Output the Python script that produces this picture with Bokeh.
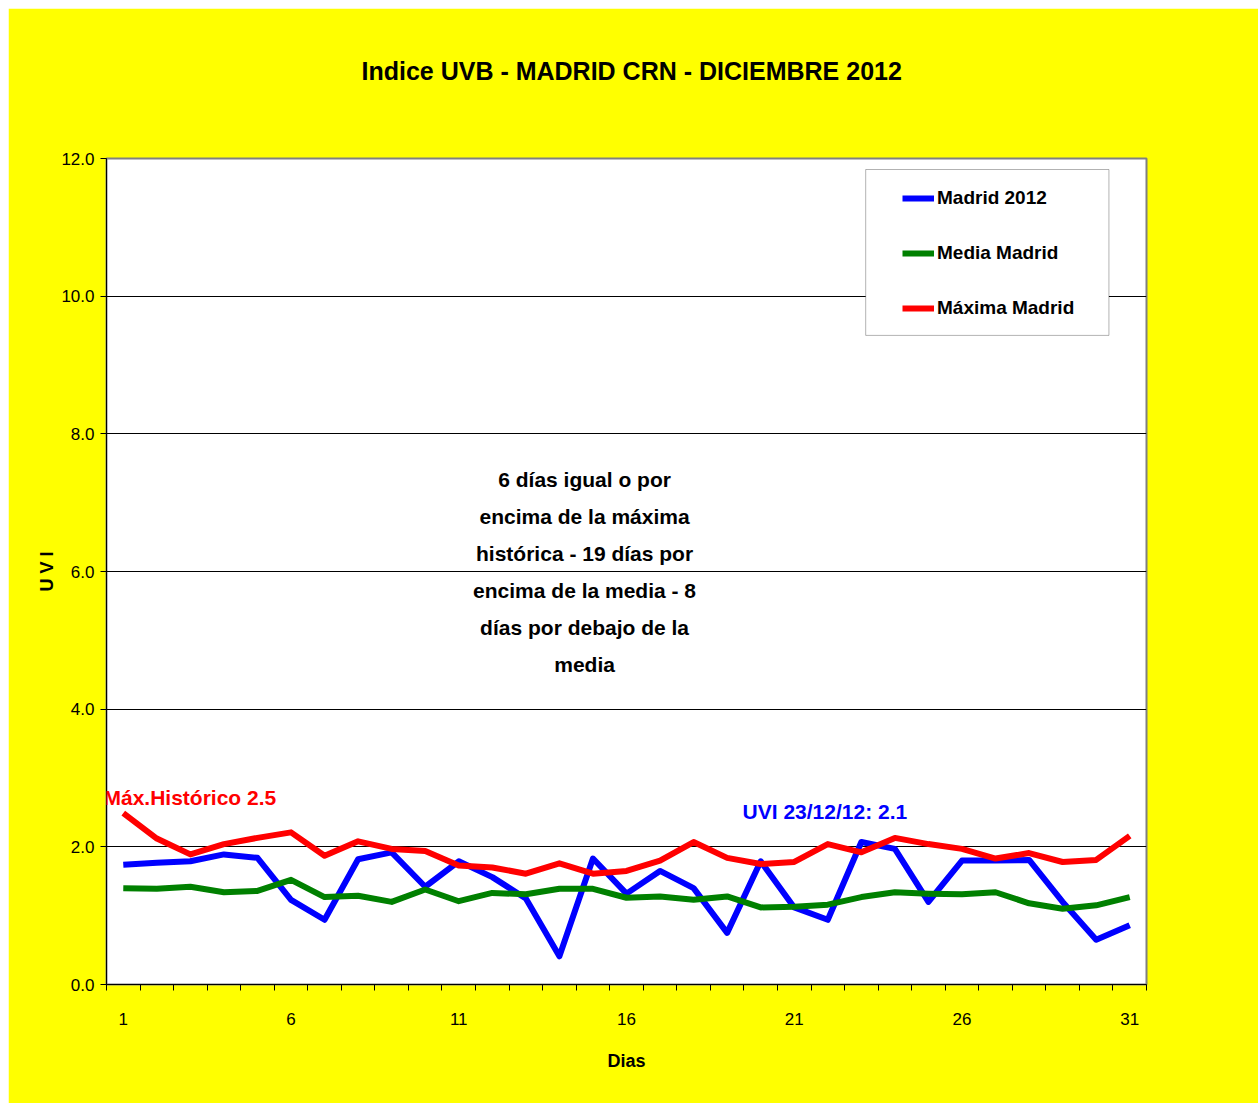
from bokeh.plotting import figure
from bokeh.models import (FixedTicker, NumeralTickFormatter, Label, Legend,
                          LegendItem, BoxAnnotation, Range1d, Title)
from bokeh.embed import file_html
from bokeh.resources import INLINE

# ---------------- data ----------------
dias = list(range(1, 32))
madrid_2012 = [1.74, 1.77, 1.79, 1.89, 1.84, 1.23, 0.94, 1.82, 1.92, 1.42,
               1.79, 1.56, 1.25, 0.41, 1.83, 1.32, 1.65, 1.40, 0.75, 1.79,
               1.12, 0.94, 2.07, 1.97, 1.20, 1.80, 1.80, 1.81, 1.20, 0.65, 0.86]
media_madrid = [1.40, 1.39, 1.42, 1.34, 1.36, 1.52, 1.27, 1.29, 1.20, 1.38,
                1.21, 1.33, 1.31, 1.39, 1.39, 1.26, 1.28, 1.23, 1.28, 1.12,
                1.13, 1.16, 1.27, 1.34, 1.32, 1.31, 1.34, 1.18, 1.10, 1.15, 1.27]
maxima_madrid = [2.49, 2.12, 1.89, 2.04, 2.13, 2.21, 1.87, 2.08, 1.97, 1.94,
                 1.73, 1.70, 1.61, 1.76, 1.61, 1.65, 1.80, 2.07, 1.84, 1.75,
                 1.78, 2.04, 1.92, 2.13, 2.04, 1.97, 1.83, 1.91, 1.78, 1.81, 2.16]
x_tick_labels = [1, 6, 11, 16, 21, 26, 31]
y_ticks = [0, 2, 4, 6, 8, 10, 12]
series_names = ["Madrid 2012", "Media Madrid", "Máxima Madrid"]
series_colors = ["#0000FF", "#008000", "#FF0000"]
titulo = "Indice UVB -  MADRID CRN -  DICIEMBRE  2012"
nota_lines = ["6 días igual o por", "encima de la máxima",
              "histórica - 19 días por", "encima de la media - 8",
              "días por debajo de la", "media"]
nota_max = "Máx.Histórico 2.5"
nota_uvi = "UVI  23/12/12: 2.1"

FONT = "Liberation Sans"

p = figure(width=1250, height=1095, output_backend="svg", toolbar_location=None,
           x_range=Range1d(0.5, 31.5), y_range=Range1d(0, 12),
           min_border_left=98, min_border_right=112,
           min_border_top=150, min_border_bottom=119)
p.margin = (8, 0, 0, 8)
p.background_fill_color = "white"
p.border_fill_color = "#FFFF00"
p.outline_line_color = "#808080"
p.outline_line_width = 2

# spacer between title and plot frame (pushes the title upward)
p.add_layout(Title(text=" ", text_font_size="10px", standoff=56), "above")

# title
p.title.text = titulo
p.title.align = "left"
p.title.text_font = FONT
p.title.text_font_style = "bold"
p.title.text_font_size = "25px"
p.title.text_color = "black"
p.title.standoff = 10
p.title.offset = 255

# axes
p.xaxis.ticker = FixedTicker(ticks=x_tick_labels,
                             minor_ticks=[d + 0.5 for d in range(0, 32)])
p.xaxis.major_tick_out = 0
p.xaxis.major_tick_in = 0
p.xaxis.minor_tick_out = 6
p.xaxis.minor_tick_in = 0
p.xaxis.minor_tick_line_color = "black"
p.xaxis.axis_line_color = "black"
p.xaxis.major_label_standoff = 22
p.xaxis.major_label_text_font = FONT
p.xaxis.major_label_text_font_size = "17px"
p.xaxis.major_label_text_color = "black"
p.xaxis.axis_label = "Dias"
p.xaxis.axis_label_text_font = FONT
p.xaxis.axis_label_text_font_style = "bold"
p.xaxis.axis_label_text_font_size = "18px"
p.xaxis.axis_label_text_color = "black"
p.xaxis.axis_label_standoff = 23

p.yaxis.ticker = FixedTicker(ticks=y_ticks)
p.yaxis.formatter = NumeralTickFormatter(format="0.0")
p.yaxis.major_tick_out = 6
p.yaxis.major_tick_in = 0
p.yaxis.minor_tick_out = 0
p.yaxis.minor_tick_in = 0
p.yaxis.axis_line_color = "black"
p.yaxis.major_label_standoff = 6
p.yaxis.major_label_text_font = FONT
p.yaxis.major_label_text_font_size = "17px"
p.yaxis.major_label_text_color = "black"
p.yaxis.axis_label = "U V I"
p.yaxis.axis_label_text_font = FONT
p.yaxis.axis_label_text_font_style = "bold"
p.yaxis.axis_label_text_font_size = "18px"
p.yaxis.axis_label_text_color = "black"
p.yaxis.axis_label_standoff = 1

p.xgrid.grid_line_color = None
p.ygrid.grid_line_color = "black"
p.ygrid.grid_line_width = 1

# lines
renderers = []
for vals, col in zip([madrid_2012, media_madrid, maxima_madrid], series_colors):
    r = p.line(dias, vals, line_color=col, line_width=6, line_join="round")
    renderers.append(r)

# legend box + legend
box = BoxAnnotation(left=23.13, right=30.38, bottom=9.43, top=11.84,
                    fill_color="white", fill_alpha=1.0,
                    line_color="black", line_width=1)
p.add_layout(box)

legend = Legend(items=[LegendItem(label=n, renderers=[r])
                       for n, r in zip(series_names, renderers)],
                location=(796, 663), orientation="vertical",
                padding=0, margin=0, spacing=29,
                glyph_width=32, glyph_height=26, label_height=26,
                label_standoff=3,
                background_fill_alpha=0, border_line_alpha=0,
                label_text_font=FONT, label_text_font_style="bold",
                label_text_font_size="19px", label_text_color="black")
p.add_layout(legend)

# annotations
p.add_layout(Label(x=0.41, y=2.72, text=nota_max, text_align="left",
                   text_baseline="middle", text_font=FONT,
                   text_font_style="bold", text_font_size="21px",
                   text_color="#FF0000"))
p.add_layout(Label(x=19.46, y=2.51, text=nota_uvi, text_align="left",
                   text_baseline="middle", text_font=FONT,
                   text_font_style="bold", text_font_size="21px",
                   text_color="#0000FF"))

line_y0 = (984 - 479) / 68.83
step = 37 / 68.83
for i, t in enumerate(nota_lines):
    p.add_layout(Label(x=14.75, y=line_y0 - i * step, text=t, text_align="center",
                       text_baseline="middle", text_font=FONT,
                       text_font_style="bold", text_font_size="21px",
                       text_color="black"))

open("out.html", "w").write(file_html(p, INLINE))
